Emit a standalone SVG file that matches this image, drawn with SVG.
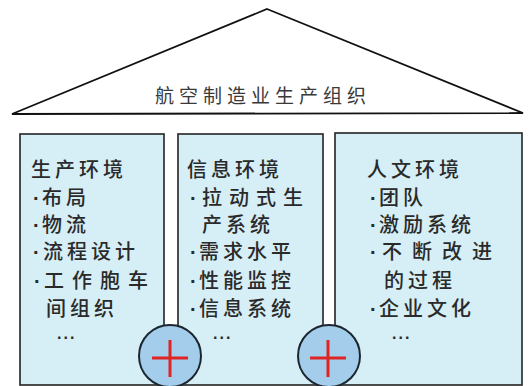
<svg xmlns="http://www.w3.org/2000/svg" width="529" height="386" viewBox="0 0 529 386">
<style>
.t{font-family:"Noto Sans CJK SC","Noto Sans",sans-serif;font-size:20px;font-weight:500;fill:#2a2a2a;letter-spacing:4px}
.b{font-family:"Liberation Sans",sans-serif;letter-spacing:0;font-weight:700}
.title{font-family:"Noto Sans CJK SC","Noto Sans",sans-serif;font-size:19px;fill:#3a3a3a;letter-spacing:5px}
.dots{font-family:"Liberation Sans",sans-serif;font-size:16px;font-weight:700;fill:#2a2a2a;letter-spacing:2px}
.box{fill:#d6eef5;stroke:#222;stroke-width:1.6}
.plus{fill:#a3cdea;stroke:#1c2630;stroke-width:2}
.cross{stroke:#e02424;stroke-width:3;fill:none}
</style>
<rect width="529" height="386" fill="#ffffff"/>
<g id="roof">
<polygon points="267,9 523,113 12,114" fill="#ffffff" stroke="#111" stroke-width="1.8" stroke-linejoin="miter"/>
<text class="title" x="155" y="103">航空制造业生产组织</text>
</g>
<g id="box-production">
<rect class="box" x="20" y="134" width="144" height="251"/>
<text class="t" x="31" y="177">生产环境</text>
<text class="t" y="205"><tspan class="b" x="33">·</tspan><tspan x="42">布局</tspan></text>
<text class="t" y="232"><tspan class="b" x="33">·</tspan><tspan x="42">物流</tspan></text>
<text class="t" y="259"><tspan class="b" x="33">·</tspan><tspan x="43">流程设计</tspan></text>
<text class="t" y="288"><tspan class="b" x="34">·</tspan><tspan x="44" style="letter-spacing:8px">工作胞车</tspan></text>
<text class="t" x="46" y="316">间组织</text>
<text class="dots" x="57" y="339">...</text>
</g>
<g id="box-info">
<rect class="box" x="178" y="134" width="145" height="251"/>
<text class="t" x="187" y="177">信息环境</text>
<text class="t" y="205"><tspan class="b" x="190">·</tspan><tspan x="202" style="letter-spacing:7px">拉动式生</tspan></text>
<text class="t" x="202" y="232">产系统</text>
<text class="t" y="259"><tspan class="b" x="190">·</tspan><tspan x="199">需求水平</tspan></text>
<text class="t" y="288"><tspan class="b" x="190">·</tspan><tspan x="199">性能监控</tspan></text>
<text class="t" y="316"><tspan class="b" x="190">·</tspan><tspan x="199">信息系统</tspan></text>
<text class="dots" x="213" y="339">...</text>
</g>
<g id="box-human">
<rect class="box" x="335" y="133" width="187" height="252"/>
<text class="t" x="367" y="177">人文环境</text>
<text class="t" y="205"><tspan class="b" x="370">·</tspan><tspan x="379">团队</tspan></text>
<text class="t" y="232"><tspan class="b" x="370">·</tspan><tspan x="379">激励系统</tspan></text>
<text class="t" y="259"><tspan class="b" x="370">·</tspan><tspan x="382" style="letter-spacing:10px">不断改进</tspan></text>
<text class="t" x="384" y="288">的过程</text>
<text class="t" y="316"><tspan class="b" x="370">·</tspan><tspan x="379">企业文化</tspan></text>
<text class="dots" x="392" y="339">...</text>
</g>
<g id="connectors"></g>
<g id="join-1">
<circle class="plus" cx="170" cy="356" r="31"/>
<path class="cross" d="M152,358H188M170,340V377"/>
</g>
<g id="join-2">
<circle class="plus" cx="329" cy="356" r="31"/>
<path class="cross" d="M310,358H346M328,340V377"/>
</g>
</svg>
